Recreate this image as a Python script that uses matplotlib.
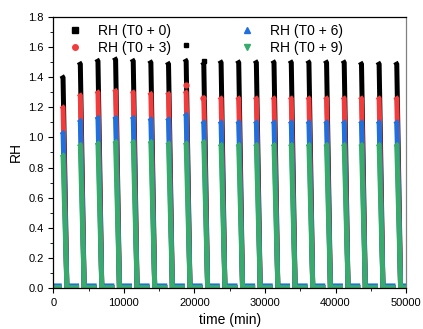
import numpy as np
import matplotlib
matplotlib.use('Agg')
import matplotlib.pyplot as plt
from matplotlib.ticker import MultipleLocator

plt.rcParams['font.family'] = ['Liberation Sans', 'DejaVu Sans']

# start of each humidity cycle (min)
cycle_start = [1200, 3650, 6150, 8650, 11150, 13650, 16150, 18650, 21150, 23600,
               26100, 28600, 31100, 33550, 36050, 38550, 41050, 43500, 46000, 48500]

# peak RH of each cycle, per series
peak_t0_0 = [1.41, 1.50, 1.52, 1.53, 1.52, 1.51, 1.50, 1.52, 1.50, 1.51,
             1.51, 1.51, 1.51, 1.51, 1.51, 1.51, 1.51, 1.50, 1.50, 1.50]
peak_t0_3 = [1.21, 1.29, 1.31, 1.32, 1.31, 1.30, 1.30, 1.31, 1.27, 1.27,
             1.27, 1.27, 1.27, 1.27, 1.27, 1.27, 1.27, 1.27, 1.27, 1.27]
peak_t0_6 = [1.04, 1.12, 1.14, 1.14, 1.14, 1.13, 1.13, 1.16, 1.11, 1.11,
             1.11, 1.11, 1.11, 1.11, 1.11, 1.11, 1.11, 1.11, 1.11, 1.11]
peak_t0_9 = [0.89, 0.96, 0.97, 0.98, 0.98, 0.98, 0.97, 0.97, 0.98, 0.96,
             0.96, 0.96, 0.96, 0.96, 0.96, 0.96, 0.96, 0.96, 0.96, 0.96]

# baseline RH between cycles
base_vals = [0.005, 0.005, 0.015, 0.004]

# a few stray points
out_x_0 = [18850, 21300]
out_y_0 = [1.61, 1.51]
out_x_3 = [18800, 21250]
out_y_3 = [1.35, 1.26]

labels = ['RH (T0 + 0)', 'RH (T0 + 3)', 'RH (T0 + 6)', 'RH (T0 + 9)']
colors = ['#000000', '#f03c3c', '#1f6fdc', '#37ab6b']
markers = ['s', 'o', '^', 'v']
peaks = [peak_t0_0, peak_t0_3, peak_t0_6, peak_t0_9]


def cycle_path(starts, pk, base):
    # fast rise (not drawn), then a steep fall back to the baseline
    xs, ys = [0], [base]
    for t, p in zip(starts, pk):
        xs += [t, np.nan, t, t + 180, t + 720]
        ys += [base, np.nan, p, p * 0.99, base]
    xs.append(50000)
    ys.append(base)
    return xs, ys


fig = plt.figure(figsize=(4.23, 3.29), dpi=100)
ax = fig.add_axes([0.126, 0.124, 0.834, 0.825])

for lab, c, m, pk, b in zip(labels, colors, markers, peaks, base_vals):
    xs, ys = cycle_path(cycle_start, pk, b)
    ax.plot(xs, ys, color=c, lw=3.6, solid_joinstyle='miter', solid_capstyle='butt')
    ax.plot([], [], ls='none', marker=m, color=c, ms=4, label=lab)

ax.plot(out_x_0, out_y_0, ls='none', marker='s', color=colors[0], ms=3.5)
ax.plot(out_x_3, out_y_3, ls='none', marker='o', color=colors[1], ms=3.5)

ax.set_xlim(0, 50000)
ax.set_ylim(0, 1.8)
ax.xaxis.set_major_locator(MultipleLocator(10000))
ax.xaxis.set_minor_locator(MultipleLocator(5000))
ax.yaxis.set_major_locator(MultipleLocator(0.2))
ax.yaxis.set_minor_locator(MultipleLocator(0.1))
ax.yaxis.set_major_formatter(plt.FormatStrFormatter('%.1f'))
ax.tick_params(which='both', direction='out', labelsize=8, top=False, right=False)
ax.tick_params(which='major', length=3.5)
ax.tick_params(which='minor', length=2)
for s in ax.spines.values():
    s.set_linewidth(0.9)
ax.spines['right'].set_color('#808080')

ax.set_xlabel('time (min)', fontsize=10, labelpad=4)
ax.set_ylabel('RH', fontsize=10, labelpad=4)

ax.legend(ncol=2, frameon=False, fontsize=10, loc='upper left',
          bbox_to_anchor=(0.003, 1.02), handletextpad=1.05, columnspacing=4.9,
          labelspacing=0.22, handlelength=1.2)

fig.savefig('out.png', dpi=100)
